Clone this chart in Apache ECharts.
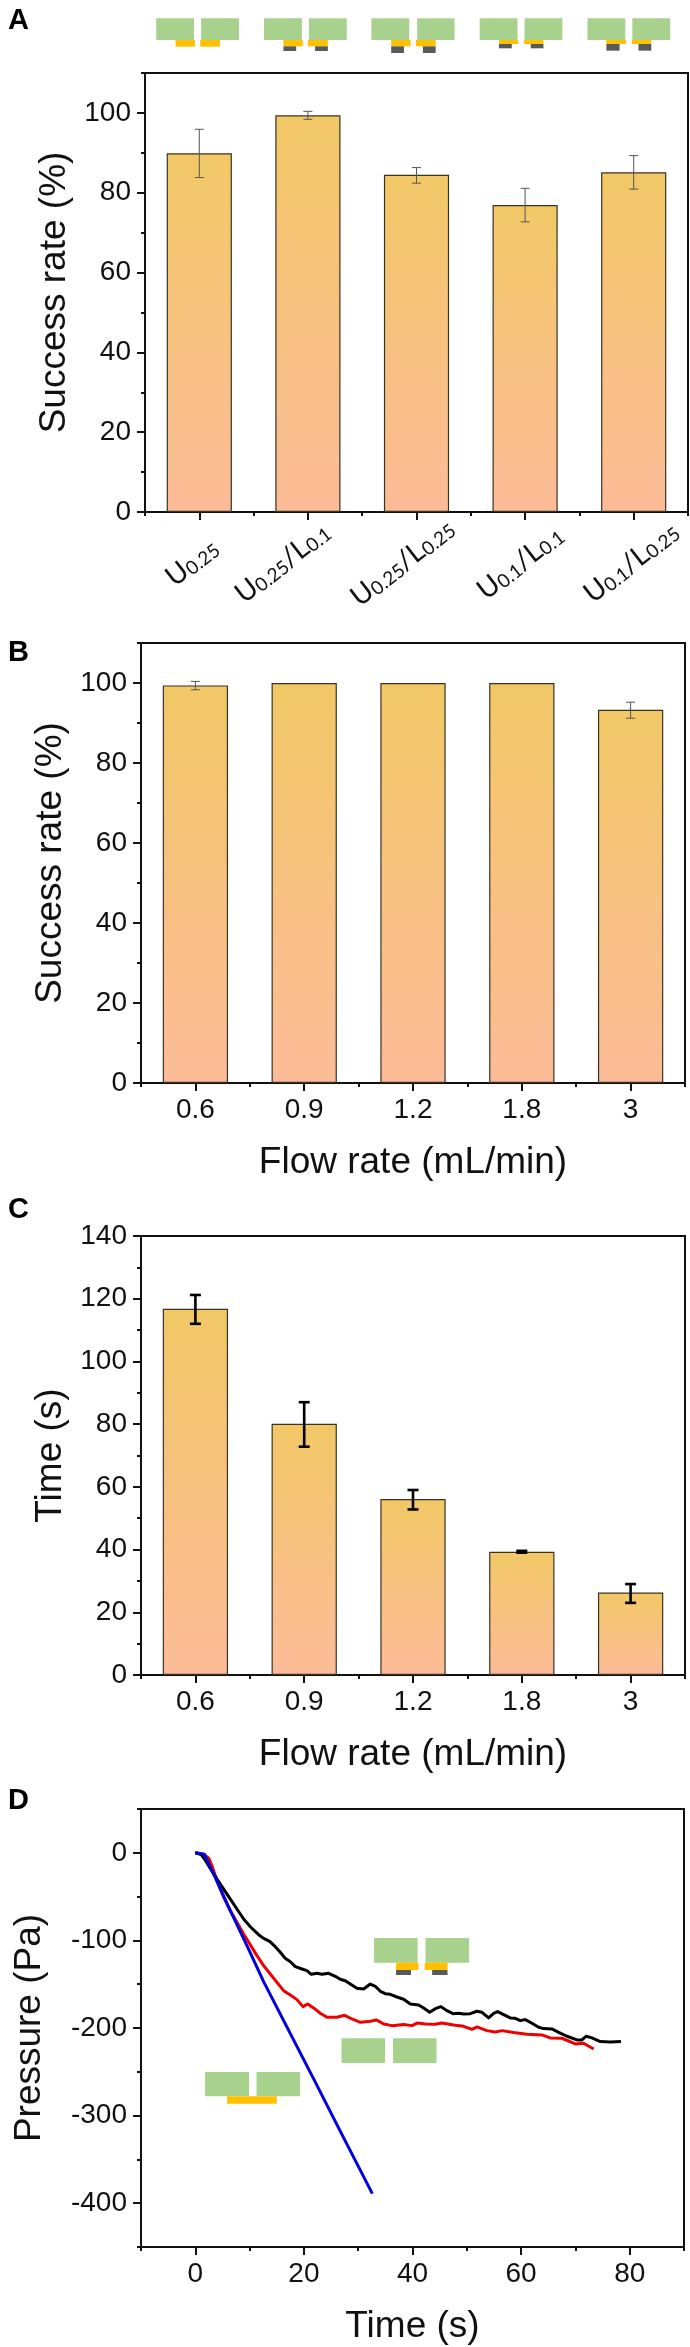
<!DOCTYPE html>
<html><head><meta charset="utf-8">
<style>html,body{margin:0;padding:0;background:#fff}#c{width:690px;height:2347px}</style>
<script src="https://cdn.jsdelivr.net/npm/echarts@6/dist/echarts.min.js"></script>
</head><body><div id="c"></div>
<script>
const aCategories=['U0.25','U0.25/L0.1','U0.25/L0.25','U0.1/L0.1','U0.1/L0.25'];
const aValues=[89.9,99.4,84.5,76.9,85.1];
const aErrLow=[83.8,98.4,82.4,72.7,80.9];
const aErrHigh=[95.9,100.4,86.3,81.1,89.3];
const flowRates=['0.6','0.9','1.2','1.8','3'];
const bValues=[99.4,100,100,100,93.3];
const bErrLow=[98.3,100,100,100,91.2];
const bErrHigh=[100.4,100,100,100,95.2];
const cValues=[116.8,80.1,56.1,39.3,26.3];
const cErrLow=[112,72.8,52.8,39,23];
const cErrHigh=[121.2,87,59,39.6,29];
const blackT=[0,1.04,1.84,2.76,3.99,5.22,6.45,7.67,8.9,10.13,11.66,12.58,13.69,14.73,15.65,16.57,17.5,18.42,19.64,20.56,21.36,22.41,23.33,24.55,25.78,26.7,27.62,28.54,29.77,31,32.23,33.15,34.07,34.99,35.91,37.14,38.37,39.59,41.13,42.05,43.16,44.2,45.24,46.35,47.45,48.5,49.42,50.64,51.87,52.79,54.02,54.94,55.68,56.78,58.01,58.93,59.85,60.77,62,63.23,64.15,65.68,66.91,68.45,70.29,71.21,71.95,73.05,74.59,76.43,78.39];
const blackP=[0,-1.9,-8.4,-17.9,-30,-41.4,-52.8,-64.2,-75.6,-84.4,-93.5,-97.7,-101.1,-107.2,-113.6,-120.5,-124.3,-130,-132.6,-134.5,-138.7,-137.6,-138.7,-137.6,-141,-144.4,-146,-149.8,-154.7,-155.5,-149.8,-152.4,-158.1,-160.8,-161.5,-164.6,-167.2,-172.6,-173.7,-177.1,-182.1,-177.9,-175.6,-180.2,-183.6,-183.2,-184,-183.6,-180.9,-182.1,-188.5,-183.2,-181.3,-184.7,-188.5,-188.9,-191.6,-190.4,-194.6,-199.2,-200.7,-201.1,-204.9,-209.4,-213.6,-213.6,-209.4,-211.3,-215.5,-215.9,-215.5];
const redT=[0,1.53,2.46,3.07,3.99,5.22,6.45,7.67,8.9,10.13,11.36,12.58,13.81,15.04,16.27,17.5,18.72,19.83,20.69,21.79,23.02,24.25,26.09,27.5,28.85,30.39,31.92,33.33,34.69,36.22,38.37,39.9,40.95,42.36,44.2,45.43,47.58,49.42,50.95,51.87,53.71,55.25,56.48,58.63,61.08,63.84,65.38,67.53,69.98,71.52,73.36];
const redP=[0,-1.5,-6.1,-14.8,-31.9,-50.9,-66.1,-79.4,-92.7,-104.9,-117.4,-128.8,-138.3,-147.9,-157.4,-162.3,-167.6,-175.6,-172.6,-177.1,-183.2,-187.8,-187.8,-185.5,-189.7,-193.5,-192.7,-190.8,-195.4,-197.3,-196.1,-197.3,-194.2,-195.4,-195.8,-194.2,-196.5,-198.1,-201.5,-198.8,-203,-204.5,-203,-205.2,-207.2,-207.9,-211.3,-211.7,-218.2,-217.4,-223.9];
const blueT=[0,1.66,3.38,6.45,9.51,12.58,16.27,21.7,26.55,32.6];
const blueP=[0,-1.5,-24.3,-66.1,-106,-147,-191.6,-257,-316,-389];
const major0to100=[0,20,40,60,80,100],minor0to110=[10,30,50,70,90,110];
const major0to140=[0,20,40,60,80,100,120,140],minor0to130=[10,30,50,70,90,110,130];
const dXMajor=[0,20,40,60,80],dXMinor=[-10,10,30,50,70,90];
const dYMajor=[0,-100,-200,-300,-400],dYMinor=[50,-50,-150,-250,-350,-450];

const FONT='"Liberation Sans",Arial,sans-serif', INK='#111';
const TICK=28, NAME=37;
const grids=[
 {left:145,top:73,width:543,height:439},
 {left:141,top:643,width:544,height:440},
 {left:141,top:1236,width:544,height:439},
 {left:141,top:1809,width:543,height:438}
];
const barFill={type:'linear',x:0,y:0,x2:0,y2:1,colorStops:[{offset:0,color:'#F2C866'},{offset:1,color:'#FCBB98'}]};

function numAxisY(gi,min,max,major,minor,name,gap){
 return [{type:'value',gridIndex:gi,min,max,position:'left',name,nameLocation:'middle',nameGap:gap,
   nameTextStyle:{fontFamily:FONT,fontSize:NAME,color:INK},
   axisLine:{show:true,onZero:false,lineStyle:{color:INK,width:2}},
   axisTick:{show:true,length:8,customValues:major,lineStyle:{color:INK,width:2}},
   axisLabel:{fontFamily:FONT,fontSize:TICK,color:INK,margin:14,customValues:major},splitLine:{show:false}},
  {type:'value',gridIndex:gi,min,max,position:'left',
   axisLine:{show:false,onZero:false},
   axisTick:{show:true,length:4,customValues:minor,lineStyle:{color:INK,width:2}},
   axisLabel:{show:false},splitLine:{show:false}}];
}
function catAxisX(gi,cats,name,label){
 return [{type:'category',gridIndex:gi,data:cats,position:'bottom',name,nameLocation:'middle',nameGap:61,
   nameTextStyle:{fontFamily:FONT,fontSize:NAME,color:INK},
   axisLine:{show:true,onZero:false,lineStyle:{color:INK,width:2}},
   axisTick:{show:true,alignWithLabel:true,length:8,lineStyle:{color:INK,width:2}},
   axisLabel:Object.assign({fontFamily:FONT,fontSize:TICK,color:INK,margin:13,interval:0},label||{})},
  {type:'category',gridIndex:gi,data:cats,position:'bottom',
   axisLine:{show:false,onZero:false},
   axisTick:{show:true,alignWithLabel:false,interval:0,length:4,lineStyle:{color:INK,width:2}},
   axisLabel:{show:false}}];
}
function barSeries(ax,values){
 return {type:'bar',xAxisIndex:ax.x,yAxisIndex:ax.y,data:values,barWidth:'60%',silent:true,
   itemStyle:{color:barFill,borderColor:'#3b3322',borderWidth:1.2}};
}
function errSeries(ax,low,high,style){
 return {type:'custom',xAxisIndex:ax.x,yAxisIndex:ax.y,silent:true,clip:false,z:5,
   data:low.map((l,i)=>[i,l,high[i]]),encode:{x:0,y:[1,2]},
   renderItem(p,api){
     if(api.value(1)===api.value(2)) return null;
     const a=api.coord([api.value(0),api.value(1)]),b=api.coord([api.value(0),api.value(2)]);
     const h=style.cap/2;
     const ln=(x1,y1,x2,y2)=>({type:'line',shape:{x1,y1,x2,y2},style:{stroke:style.color,lineWidth:style.width,fill:null}});
     return {type:'group',children:[ln(a[0],a[1],b[0],b[1]),ln(a[0]-h,a[1],a[0]+h,a[1]),ln(b[0]-h,b[1],b[0]+h,b[1])]};
   }};
}
function lineSeries(ts,ps,color){
 return {type:'line',xAxisIndex:6,yAxisIndex:6,data:ts.map((t,i)=>[t,ps[i]]),showSymbol:false,silent:true,
   lineStyle:{color,width:3,join:'round'},animation:false};
}
const subLabel={
 formatter(v){return v.split('/').map(p=>'{m|'+p[0]+'}{s|'+p.slice(1)+'}').join('{m|/}');},
 rotate:38,margin:49,align:'center',verticalAlign:'middle',
 rich:{m:{fontFamily:'Lato,"Open Sans",sans-serif',fontSize:28,color:INK,lineHeight:32,verticalAlign:'bottom'},
       s:{fontFamily:'Lato,"Open Sans",sans-serif',fontSize:19,color:INK,lineHeight:32,verticalAlign:'bottom'}}
};
// per-label nudges [right, bottom] so each rotated label sits left of its tick as in the reference
const labelNudge=[[13,10.5],[42,32.5],[24,18.5],[9.5,7.5],[5.5,4.5]];
const aCategoryItems=aCategories.map((value,i)=>({value,textStyle:{align:'center',verticalAlign:'middle',
  padding:[0,labelNudge[i][0],labelNudge[i][1],0]}}));
const xAxis=[
 ...catAxisX(0,aCategoryItems,'',subLabel),
 ...catAxisX(1,flowRates,'Flow rate (mL/min)'),
 ...catAxisX(2,flowRates,'Flow rate (mL/min)'),
 {type:'value',gridIndex:3,min:-10,max:90,position:'bottom',name:'Time (s)',nameLocation:'middle',nameGap:61,
  nameTextStyle:{fontFamily:FONT,fontSize:NAME,color:INK},
  axisLine:{show:true,onZero:false,lineStyle:{color:INK,width:2}},
  axisTick:{show:true,length:8,customValues:dXMajor,lineStyle:{color:INK,width:2}},
  axisLabel:{fontFamily:FONT,fontSize:TICK,color:INK,margin:13,customValues:dXMajor},splitLine:{show:false}},
 {type:'value',gridIndex:3,min:-10,max:90,position:'bottom',axisLine:{show:false,onZero:false},
  axisTick:{show:true,length:4,customValues:dXMinor,lineStyle:{color:INK,width:2}},axisLabel:{show:false},splitLine:{show:false}}
];
const yAxis=[
 ...numAxisY(0,0,110,major0to100,minor0to110,'Success rate (%)',68),
 ...numAxisY(1,0,110,major0to100,minor0to110,'Success rate (%)',68),
 ...numAxisY(2,0,140,major0to140,minor0to130,'Time (s)',68),
 ...numAxisY(3,-450,50,dYMajor,dYMinor,'Pressure (Pa)',93)
];
const thin={color:'#555',width:1,cap:9}, thick={color:'#000',width:2.6,cap:11};
const series=[
 barSeries({x:0,y:0},aValues),errSeries({x:0,y:0},aErrLow,aErrHigh,thin),
 barSeries({x:2,y:2},bValues),errSeries({x:2,y:2},bErrLow,bErrHigh,thin),
 barSeries({x:4,y:4},cValues),errSeries({x:4,y:4},cErrLow,cErrHigh,thick),
 lineSeries(redT,redP,'#EE0000'),lineSeries(blackT,blackP,'#000000'),lineSeries(blueT,blueP,'#0000DD')
];

// decorative channel schematics (pixel boxes: x0,y0,x1,y1)
const GREEN='#A9D18E',YELLOW='#FFC000',DARK='#595959';
const schematicBoxes=[];
const sx=1/2.2725, sy=1/3;
function box(color,x0,y0,x1,y1,oy){schematicBoxes.push({type:'rect',silent:true,z:20,
  shape:{x:x0*sx,y:y0*sy+oy,width:(x1-x0)*sx,height:(y1-y0)*sy},style:{fill:color}});}
[[355,441,457,543,399,443,455,500,140,0,0,0,0],
 [600,686,702,788,644,688,700,745,139,644,673,716,745,153],
 [844,930,948,1033,889,933,945,990,139,889,918,961,990,159],
 [1090,1176,1192,1278,1134,1178,1191,1235,132,1134,1163,1206,1235,145],
 [1335,1421,1437,1523,1378,1423,1436,1480,132,1378,1408,1451,1480,152]
].forEach(g=>{
 box(GREEN,g[0],55,g[1],120,0);box(GREEN,g[2],55,g[3],120,0);
 box(YELLOW,g[4],120,g[5],g[8],0);box(YELLOW,g[6],120,g[7],g[8],0);
 if(g[9]){box(DARK,g[9],g[8],g[10],g[13],0);box(DARK,g[11],g[8],g[12],g[13],0);}
});
box(GREEN,850,474,949,548,1780);box(GREEN,967,474,1066,548,1780);
box(YELLOW,900,548,951,570,1780);box(YELLOW,965,548,1017,570,1780);
box(DARK,900,570,934,585,1780);box(DARK,982,570,1017,585,1780);
box(GREEN,776,775,875,849,1780);box(GREEN,893,775,992,849,1780);
box(GREEN,466,66,566,139,2050);box(GREEN,583,66,682,139,2050);
box(YELLOW,516,139,629,161,2050);

const letters=[['A',8,21],['B',8,653],['C',8,1210],['D',8,1801]].map(([t,x,y])=>({type:'text',silent:true,x,y,
  style:{text:t,fontFamily:FONT,fontWeight:'bold',fontSize:29,fill:'#000',textVerticalAlign:'middle'}}));

const chart=echarts.init(document.getElementById('c'),null,{renderer:'canvas'});
chart.setOption({animation:false,backgroundColor:'#fff',
 grid:grids.map(g=>Object.assign({show:true,borderColor:INK,borderWidth:2,backgroundColor:'transparent'},g)),
 xAxis,yAxis,series,graphic:[...schematicBoxes,...letters]});
</script></body></html>
